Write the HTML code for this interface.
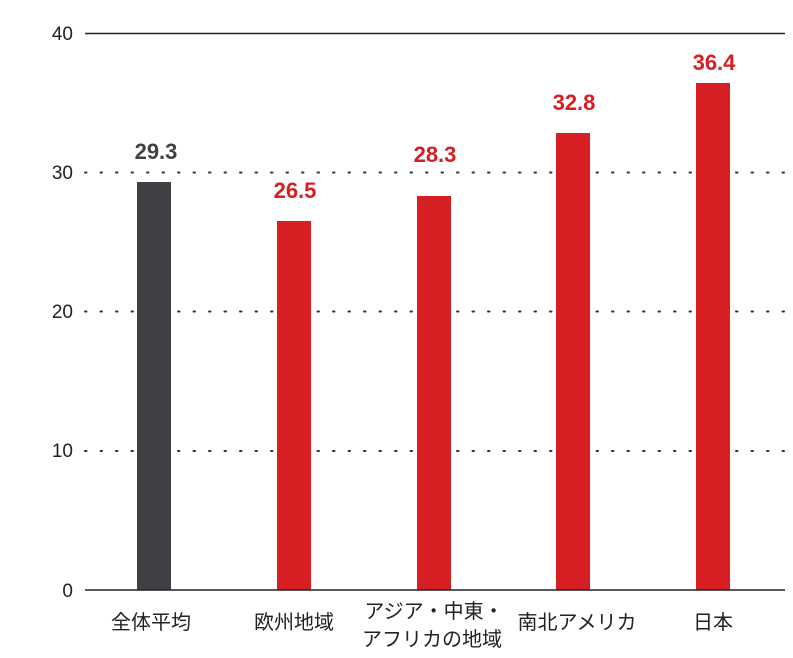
<!DOCTYPE html>
<html><head><meta charset="utf-8"><style>
html,body{margin:0;padding:0;background:#fff;}
svg{display:block;}
</style></head><body>
<svg width="793" height="658" xmlns="http://www.w3.org/2000/svg" font-family="Liberation Sans, 'Noto Sans CJK JP', sans-serif">
<line x1="85" y1="33.5" x2="785" y2="33.5" stroke="#222" stroke-width="1.5"/>
<g stroke="#333" stroke-width="2" stroke-dasharray="1.5 14" stroke-linecap="round">
<line x1="85" y1="172.5" x2="785" y2="172.5"/>
<line x1="85" y1="311.5" x2="785" y2="311.5"/>
<line x1="85" y1="451" x2="785" y2="451"/>
</g>
<g font-size="19" fill="#222" text-anchor="end">
<text x="73" y="40">40</text>
<text x="73" y="179">30</text>
<text x="73" y="318">20</text>
<text x="73" y="457">10</text>
<text x="73" y="597">0</text>
</g>
<rect x="137" y="182" width="34" height="408" fill="#414045"/>
<rect x="277" y="221" width="34" height="369" fill="#d71e22"/>
<rect x="417" y="196" width="34" height="394" fill="#d71e22"/>
<rect x="556" y="133" width="34" height="457" fill="#d71e22"/>
<rect x="696" y="83" width="34" height="507" fill="#d71e22"/>
<line x1="85" y1="590" x2="785" y2="590" stroke="#222" stroke-width="1.5"/>
<g font-size="22" font-weight="bold" text-anchor="middle">
<text x="156" y="159" fill="#414045">29.3</text>
<text x="295" y="198" fill="#d71e22">26.5</text>
<text x="435" y="162" fill="#d71e22">28.3</text>
<text x="574" y="110" fill="#d71e22">32.8</text>
<text x="714" y="70" fill="#d71e22">36.4</text>
</g>
<g font-size="20" fill="#222" text-anchor="middle">
<text x="151" y="629">全体平均</text>
<text x="294" y="629">欧州地域</text>
<text x="434" y="618">アジア・中東・</text>
<text x="432" y="646">アフリカの地域</text>
<text x="577" y="629">南北アメリカ</text>
<text x="713" y="629">日本</text>
</g>
</svg>
</body></html>
